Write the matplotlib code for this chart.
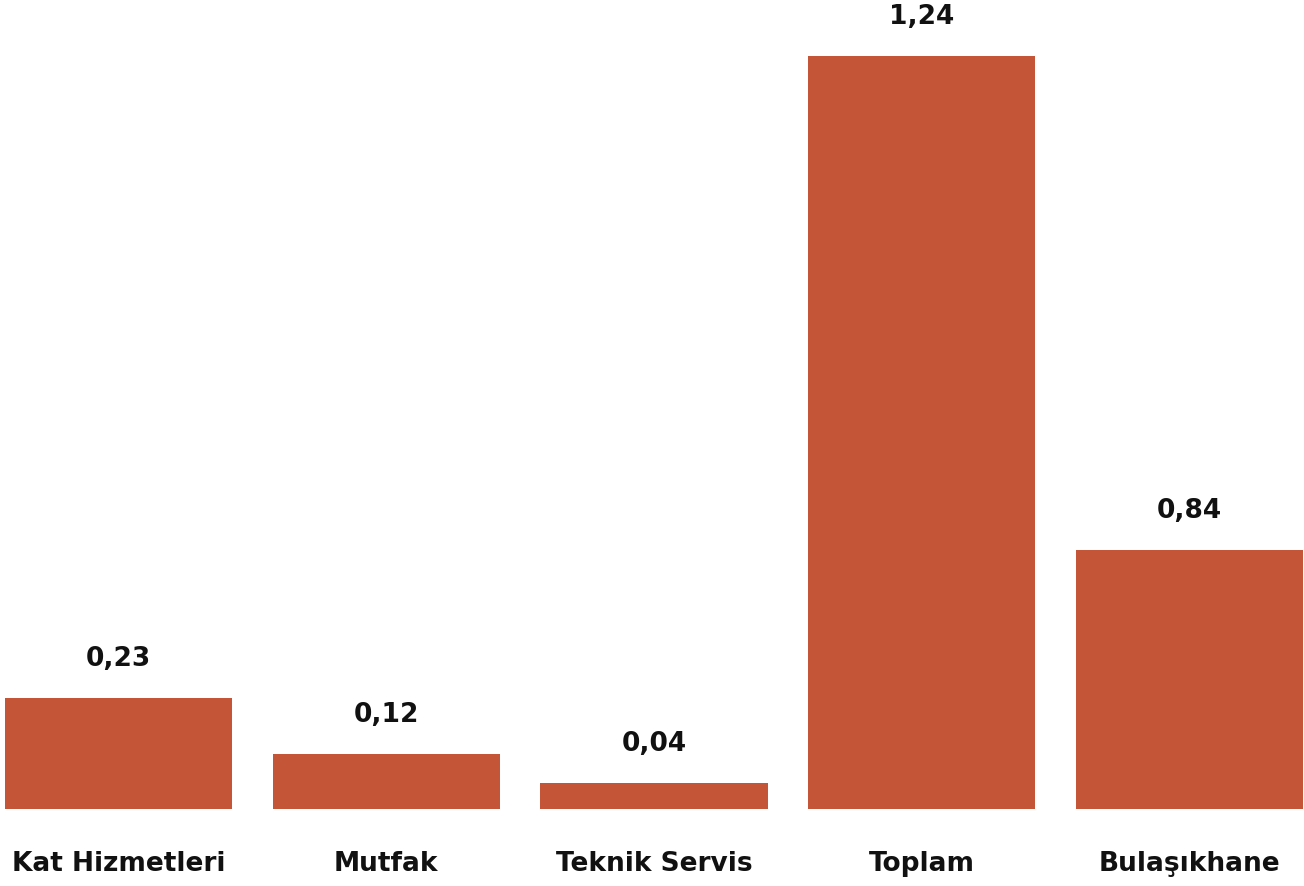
import matplotlib
matplotlib.use("Agg")
import matplotlib.pyplot as plt
import numpy as np

categories = ["Kat Hizmetleri", "Mutfak", "Teknik Servis", "Toplam", "Bulaşıkhane"]
bar_heights = [0.183, 0.091, 0.043, 1.24, 0.427]
value_labels = ["0,23", "0,12", "0,04", "1,24", "0,84"]

bar_color = "#C55537"

fig = plt.figure(figsize=(13.04, 8.86), dpi=100)
ax = fig.add_axes([0, 77 / 886, 1, 753 / 886])

x = np.arange(len(categories))
ax.bar(x, bar_heights, width=0.848, color=bar_color)

ax.set_xlim(-0.4426, 4.4276)
ax.set_ylim(0, 1.24)

for xi, h, lab in zip(x, bar_heights, value_labels):
    ax.annotate(lab, (xi, h), xytext=(0, 39), textcoords="offset pixels",
                ha="center", va="center", fontsize=19, fontweight="bold",
                color="#111111", family="DejaVu Sans", annotation_clip=False)

for xi, cat in zip(x, categories):
    ax.annotate(cat, (xi, 0), xytext=(0, -55), textcoords="offset pixels",
                ha="center", va="center", fontsize=19, fontweight="bold",
                color="#111111", family="DejaVu Sans", annotation_clip=False)

ax.axis("off")
fig.savefig("out.png", dpi=100)
